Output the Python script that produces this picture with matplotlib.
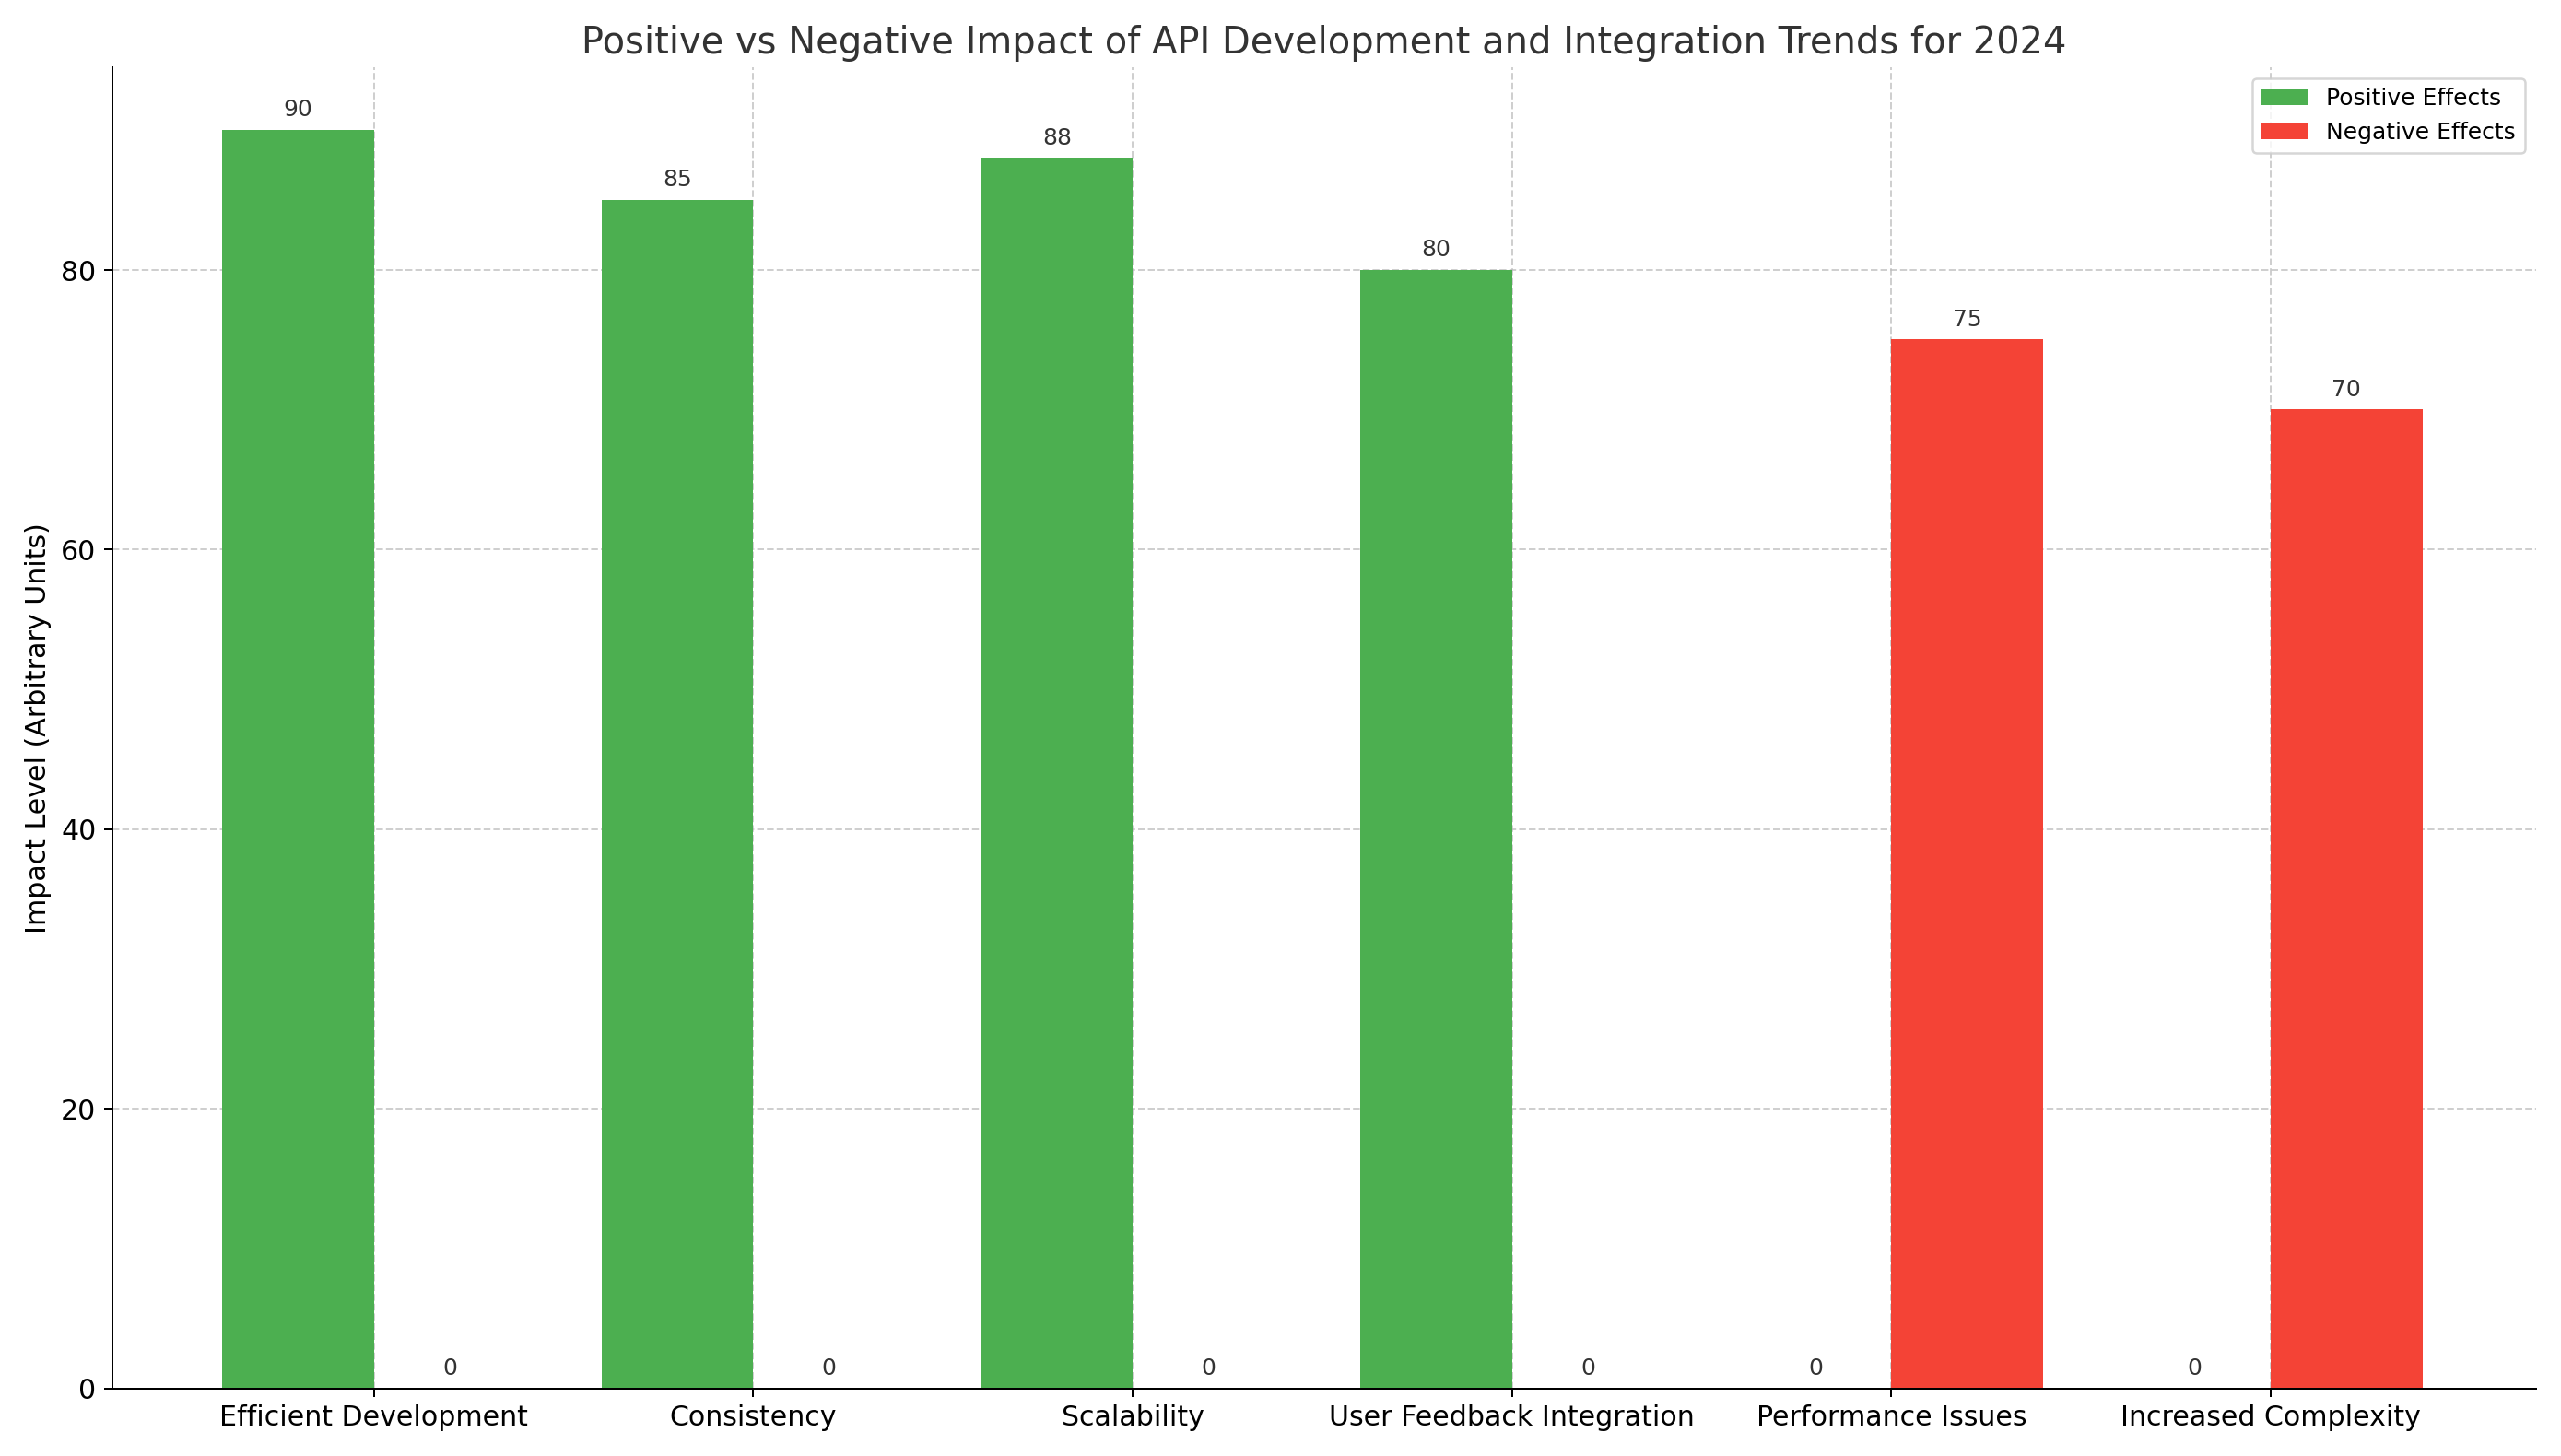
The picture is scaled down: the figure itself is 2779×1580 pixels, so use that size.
import numpy as np
import matplotlib
matplotlib.use("Agg")
import matplotlib.pyplot as plt

categories = ["Efficient Development", "Consistency", "Scalability",
              "User Feedback Integration", "Performance Issues", "Increased Complexity"]
positive = [90, 85, 88, 80, 0, 0]
negative = [0, 0, 0, 0, 75, 70]

fig, ax = plt.subplots(figsize=(15.44, 8.78), dpi=180)
x = np.arange(len(categories))
w = 0.4
b1 = ax.bar(x - w / 2, positive, w, color="#4CAF50", label="Positive Effects")
b2 = ax.bar(x + w / 2, negative, w, color="#F44336", label="Negative Effects")

for bars in (b1, b2):
    for b in bars:
        ax.annotate(f"{b.get_height():.0f}", (b.get_x() + b.get_width() / 2, b.get_height()),
                    xytext=(0, 4), textcoords="offset points", ha="center", va="bottom",
                    fontsize=10, color="#333333")

ax.set_title("Positive vs Negative Impact of API Development and Integration Trends for 2024",
             fontsize=16, color="#333333")
ax.set_ylabel("Impact Level (Arbitrary Units)", fontsize=12)
ax.set_xticks(x)
ax.set_xticklabels(categories, fontsize=12)
ax.tick_params(axis="y", labelsize=12)
ax.set_xlim(-0.69, 5.7)
ax.set_ylim(0, 94.5)
ax.grid(True, linestyle="--", alpha=0.7, color="#bbbbbb")
ax.set_axisbelow(True)
ax.spines["top"].set_visible(False)
ax.spines["right"].set_visible(False)
ax.legend(loc="upper right", fontsize=10)

plt.tight_layout()
fig.savefig("out.png", dpi=180)
